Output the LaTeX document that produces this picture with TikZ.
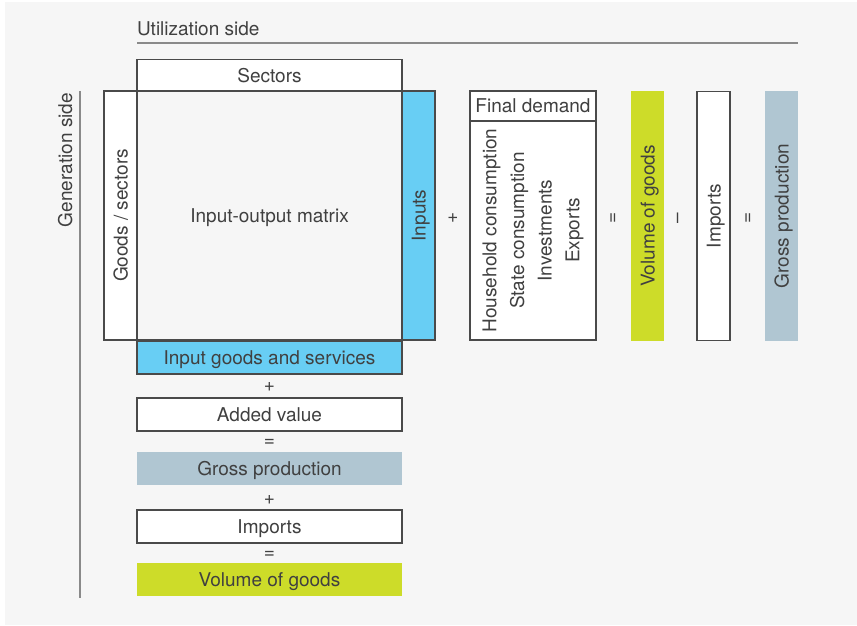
\documentclass[tikz,border=0pt]{standalone}
\usepackage{fontspec}
\setmainfont{TeX Gyre Heros}
\definecolor{bgc}{HTML}{F6F6F6}
\definecolor{txt}{HTML}{404040}
\definecolor{bord}{HTML}{4A4A4A}
\definecolor{rulec}{HTML}{8A8A8A}
\definecolor{bluec}{HTML}{68CEF4}
\definecolor{greenc}{HTML}{CDDC29}
\definecolor{grayc}{HTML}{B0C6D2}
\begin{document}
\begin{tikzpicture}[x=1pt,y=-1pt,
  every node/.style={font=\fontsize{19}{27.7}\selectfont, text=txt, inner sep=0pt, outer sep=0pt},
  lbl/.style={text height=14pt, text depth=0pt},
  box/.style={draw=bord, line width=1.1pt, fill=white},
  hbox/.style={lbl, minimum width=265pt, minimum height=33pt},
  vbox/.style={lbl, rotate=90, minimum width=249pt, minimum height=33pt},
  op/.style={},
  rulel/.style={draw=rulec, line width=1.4pt}]
\fill[white] (0,0) rectangle (857,626);
\useasboundingbox (0,0) rectangle (857,626);
\fill[bgc] (5,2) rectangle (857,625);

% headings
\node[anchor=base west] (util) at (137,36) {Utilization side};
\coordinate (uA) at (137,43);
\coordinate (uB) at (798,43);
\draw[rulel] (uA) -- (uB);
\node[rotate=90, anchor=base east] (gen) at (72,93) {Generation side};
\coordinate (gA) at (80,91);
\coordinate (gB) at (80,598);
\draw[rulel] (gA) -- (gB);

% matrix block
\node[box, lbl, minimum width=265pt, minimum height=32pt] (sectors) at (269.5,75.5) {Sectors};
\node[box, vbox] (goods) at (120.5,215.5) {Goods / sectors};
\node[draw=bord, line width=1.1pt, lbl, minimum width=265pt, minimum height=249pt] (matrix) at (269.5,215.5) {Input-output matrix};
\node[box, vbox, fill=bluec] (inputs) at (418.5,215.5) {Inputs};

% bottom column
\node[box, hbox, fill=bluec] (igs) at (269.5,357.5) {Input goods and services};
\node[op] (p1) at (269.5,387) {+};
\node[box, hbox] (added) at (269.5,414.5) {Added value};
\node[op] (e1) at (269.5,443) {=};
\node[hbox, fill=grayc] (gross) at (269.5,468.5) {Gross production};
\node[op] (p2) at (269.5,500) {+};
\node[box, hbox] (imports) at (269.5,526.5) {Imports};
\node[op] (e2) at (269.5,555) {=};
\node[hbox, fill=greenc] (volume) at (269.5,579.5) {Volume of goods};

% right side
\node[op, rotate=90] (p3) at (453,218) {+};
\node[box, lbl, minimum width=126pt, minimum height=30pt] (fdh) at (533,106) {Final demand};
\node[box, rotate=90, minimum width=219pt, minimum height=126pt, align=center] (fdb) at (533,230.5)
  {Household consumption\\State consumption\\Investments\\Exports};
\node[op, rotate=90] (e3) at (614,218) {=};
\node[vbox, fill=greenc] (vcol) at (647.5,216) {Volume of goods};
\node[op, rotate=90] (m1) at (680,218) {\textendash};
\node[box, vbox] (icol) at (713.5,216) {Imports};
\node[op, rotate=90] (e4) at (749,218) {=};
\node[vbox, fill=grayc] (gcol) at (781.5,216) {Gross production};
\end{tikzpicture}
\end{document}
